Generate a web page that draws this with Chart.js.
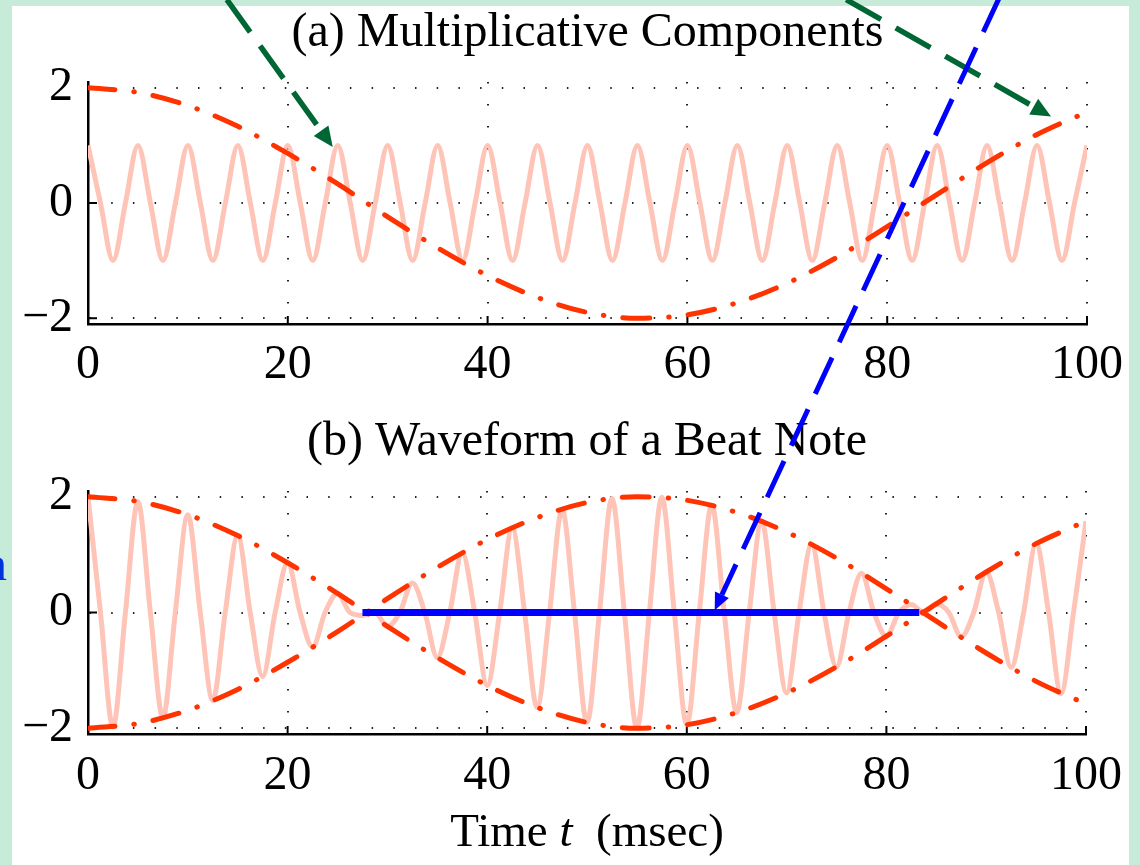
<!DOCTYPE html>
<html>
<head>
<meta charset="utf-8">
<script src="https://cdn.jsdelivr.net/npm/chart.js@4.4.0/dist/chart.umd.min.js"></script>
<style>
html, body { margin: 0; padding: 0; }
body { width: 1140px; height: 865px; background: #c6ebd9; position: relative; overflow: hidden; }
#panel { position: absolute; left: 12px; top: 6px; width: 1117px; height: 859px; background: #fff; }
#chartA { position: absolute; left: 0; top: 0; }
#chartB { position: absolute; left: 0; top: 400px; }
#arrows { position: absolute; left: 0; top: 0; pointer-events: none; }
</style>
</head>
<body>
<div id="panel"></div>
<canvas id="chartA" width="1140" height="400"></canvas>
<canvas id="chartB" width="1140" height="465"></canvas>
<canvas id="arrows" width="1140" height="865"></canvas>
<script>
// time samples (msec)
const timeFine = [0,1.25,2.5,3.75,5,6.25,7.5,8.75,10,11.25,12.5,13.75,15,16.25,17.5,18.75,20,21.25,22.5,23.75,
  25,26.25,27.5,28.75,30,31.25,32.5,33.75,35,36.25,37.5,38.75,40,41.25,42.5,43.75,45,46.25,47.5,48.75,
  50,51.25,52.5,53.75,55,56.25,57.5,58.75,60,61.25,62.5,63.75,65,66.25,67.5,68.75,70,71.25,72.5,73.75,
  75,76.25,77.5,78.75,80,81.25,82.5,83.75,85,86.25,87.5,88.75,90,91.25,92.5,93.75,95,96.25,97.5,98.75,100];
const timeCoarse = [0,5,10,15,20,25,30,35,40,45,50,55,60,65,70,75,80,85,90,95,100];

// (a) carrier read at peaks / zero crossings
const carrier = [1,0,-1,0, 1,0,-1,0, 1,0,-1,0, 1,0,-1,0, 1,0,-1,0,
  1,0,-1,0, 1,0,-1,0, 1,0,-1,0, 1,0,-1,0, 1,0,-1,0,
  1,0,-1,0, 1,0,-1,0, 1,0,-1,0, 1,0,-1,0, 1,0,-1,0,
  1,0,-1,0, 1,0,-1,0, 1,0,-1,0, 1,0,-1,0, 1,0,-1,0, 1];
// slow envelope (dash-dot)
const envelopeUpper = [2.00,1.92,1.69,1.33,0.86,0.33,-0.24,-0.78,-1.26,-1.64,-1.90,-2.00,-1.94,-1.73,-1.39,-0.94,-0.41,0.15,0.70,1.19,1.58];
const envelopeLower = [-2.00,-1.92,-1.69,-1.33,-0.86,-0.33,0.24,0.78,1.26,1.64,1.90,2.00,1.94,1.73,1.39,0.94,0.41,-0.15,-0.70,-1.19,-1.58];
// (b) beat note, peaks and zero crossings
const beat = [2.00,0,-1.98,0,1.92,0,-1.82,0,1.69,0,-1.52,0,1.33,0,-1.11,0,0.86,0,-0.60,0,
  0.33,0,-0.05,0,-0.24,0,0.51,0,-0.78,0,1.03,0,-1.26,0,1.46,0,-1.64,0,1.78,0,
  -1.90,0,1.97,0,-2.00,0,1.99,0,-1.94,0,1.86,0,-1.73,0,1.58,0,-1.39,0,1.18,0,
  -0.94,0,0.68,0,-0.41,0,0.14,0,0.15,0,-0.42,0,0.70,0,-0.95,0,1.19,0,-1.40,0,1.58];
// blue segment between envelope zeros
const beatGapTime = [27.5, 83.3];
const beatGapValue = [0, 0];

const xTicks = [0,20,40,60,80,100];
const yTicks = [-2,0,2];
const yTickLabels = ['\u22122','0','2'];

// arrows: [t, value] in each panel's own axes
const arrowCarrier = { tail: [13.9, 3.53], tip: [24.5, 0.97] };
const arrowEnvelope = { tail: [75.9, 3.53], tip: [96.4, 1.5] };
const arrowGap = { tail: [91.4, 10.66], tip: [62.8, 0.04] };

const FONT = 'Liberation Serif';
const pts = (xs, ys) => xs.map((x, i) => ({ x: x, y: ys[i] }));

const innerTicks = {
  id: 'innerTicks',
  beforeDatasetsDraw(chart) {
    const { ctx, chartArea: a, scales: { x, y } } = chart;
    ctx.save();
    ctx.strokeStyle = '#000';
    ctx.lineWidth = 2;
    x.ticks.forEach(t => {
      const px = x.getPixelForValue(t.value);
      ctx.beginPath(); ctx.moveTo(px, a.bottom); ctx.lineTo(px, a.bottom - 8); ctx.stroke();
    });
    y.ticks.forEach(t => {
      const py = y.getPixelForValue(t.value);
      ctx.beginPath(); ctx.moveTo(a.left, py); ctx.lineTo(a.left + 9, py); ctx.stroke();
    });
    ctx.restore();
  }
};

const timeLabel = {
  id: 'timeLabel',
  afterDraw(chart) {
    const { ctx, chartArea: a } = chart;
    const parts = [['Time ', 'normal'], ['t', 'italic'], ['  (msec)', 'normal']];
    ctx.save();
    ctx.fillStyle = '#000';
    ctx.textBaseline = 'alphabetic';
    let w = 0;
    parts.forEach(p => { ctx.font = p[1] + ' 47px "' + FONT + '"'; w += ctx.measureText(p[0]).width; });
    let x = (a.left + a.right) / 2 - w / 2;
    parts.forEach(p => {
      ctx.font = p[1] + ' 47px "' + FONT + '"';
      ctx.fillText(p[0], x, 446);
      x += ctx.measureText(p[0]).width;
    });
    ctx.restore();
  }
};

function scales(bottomHeight, tickPad) {
  return {
    x: {
      type: 'linear', min: 0, max: 100,
      afterBuildTicks: s => { s.ticks = xTicks.map(v => ({ value: v })); },
      afterFit: s => { s.height = bottomHeight; },
      grid: { color: '#222', lineWidth: 2, drawTicks: false },
      border: { display: true, color: '#000', width: 2.5, dash: [1.5, 20.5] },
      ticks: { color: '#000', padding: tickPad, maxRotation: 0, autoSkip: false,
        font: { family: FONT, size: 48, lineHeight: 1 }, callback: v => String(v) }
    },
    y: {
      type: 'linear', min: -2.1, max: 2.1,
      afterBuildTicks: s => { s.ticks = yTicks.map(v => ({ value: v })); },
      afterFit: s => { s.width = 88; },
      grid: { color: '#222', lineWidth: 2, drawTicks: false },
      border: { display: true, color: '#000', width: 2.5, dash: [1.5, 20.2] },
      ticks: { color: '#000', padding: 15,
        font: { family: FONT, size: 48, lineHeight: 1 }, callback: (v, i) => yTickLabels[i] }
    }
  };
}

const dashDot = {
  borderColor: '#ff3300', borderWidth: 5, borderDash: [27, 19, 0.5, 19],
  borderCapStyle: 'round', pointRadius: 0, cubicInterpolationMode: 'monotone', fill: false
};
const pinkLine = {
  borderColor: '#ffc4b8', borderWidth: 5, pointRadius: 0,
  cubicInterpolationMode: 'monotone', fill: false
};

const chartA = new Chart(document.getElementById('chartA'), {
  type: 'line',
  data: {
    datasets: [
      Object.assign({ label: 'envelope', data: pts(timeCoarse, envelopeUpper) }, dashDot),
      Object.assign({ label: 'carrier', data: pts(timeFine, carrier) }, pinkLine)
    ]
  },
  options: {
    responsive: false, animation: false,
    layout: { padding: { left: 0, right: 52, top: 0, bottom: 0 } },
    plugins: {
      legend: { display: false }, tooltip: { enabled: false },
      title: { display: true, fullSize: false, text: '(a) Multiplicative Components', color: '#000',
        font: { family: FONT, size: 48, weight: 'normal', lineHeight: 1 }, padding: { top: 9, bottom: 25 } }
    },
    scales: scales(76, 17)
  },
  plugins: [innerTicks]
});

const chartB = new Chart(document.getElementById('chartB'), {
  type: 'line',
  data: {
    datasets: [
      { label: 'gap', data: pts(beatGapTime, beatGapValue), borderColor: '#0000ff', borderWidth: 7,
        pointRadius: 0, fill: false },
      Object.assign({ label: 'upper', data: pts(timeCoarse, envelopeUpper) }, dashDot),
      Object.assign({ label: 'lower', data: pts(timeCoarse, envelopeLower) }, dashDot),
      Object.assign({ label: 'beat', data: pts(timeFine, beat) }, pinkLine)
    ]
  },
  options: {
    responsive: false, animation: false,
    layout: { padding: { left: 0, right: 52, top: 0, bottom: 0 } },
    plugins: {
      legend: { display: false }, tooltip: { enabled: false },
      title: { display: true, fullSize: false, text: '(b) Waveform of a Beat Note', color: '#000',
        font: { family: FONT, size: 48, weight: 'normal', lineHeight: 1 }, padding: { top: 18, bottom: 25 } }
    },
    scales: scales(131, 18)
  },
  plugins: [innerTicks, timeLabel]
});

// arrows across both panels
const octx = document.getElementById('arrows').getContext('2d');
function arrow(chart, offY, a, color, width, head) {
  const sx = chart.scales.x, sy = chart.scales.y;
  const x0 = sx.getPixelForValue(a.tail[0]), y0 = sy.getPixelForValue(a.tail[1]) + offY;
  const x1 = sx.getPixelForValue(a.tip[0]), y1 = sy.getPixelForValue(a.tip[1]) + offY;
  const ang = Math.atan2(y1 - y0, x1 - x0);
  const bx = x1 - head * Math.cos(ang), by = y1 - head * Math.sin(ang);
  const hw = head * 0.45;
  octx.save();
  octx.strokeStyle = color; octx.lineWidth = width;
  octx.setLineDash([40, 17]);
  octx.beginPath(); octx.moveTo(x0, y0); octx.lineTo(bx, by); octx.stroke();
  octx.setLineDash([]);
  octx.fillStyle = color;
  octx.beginPath();
  octx.moveTo(x1, y1);
  octx.lineTo(bx + hw * Math.sin(ang), by - hw * Math.cos(ang));
  octx.lineTo(bx - hw * Math.sin(ang), by + hw * Math.cos(ang));
  octx.closePath(); octx.fill();
  octx.restore();
}
arrow(chartA, 0, arrowCarrier, '#006633', 5.5, 20);
arrow(chartA, 0, arrowEnvelope, '#006633', 5.5, 20);
arrow(chartB, 400, arrowGap, '#0000ff', 5, 17);

octx.fillStyle = '#0033dd';
octx.font = '48px "Liberation Serif"';
octx.textAlign = 'right';
octx.fillText('n', 7, 580);
</script>
</body>
</html>
